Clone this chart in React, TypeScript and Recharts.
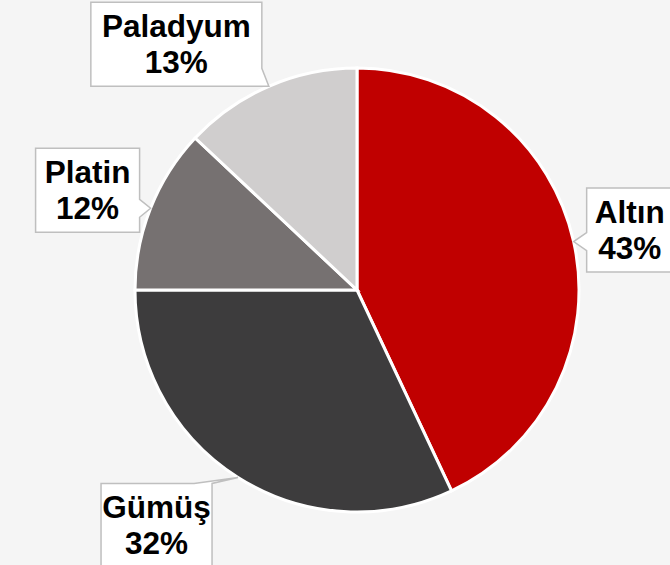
import { PieChart, Pie, Cell } from 'recharts';

const NAMES = ['Altın', 'Gümüş', 'Platin', 'Paladyum'];
const SHARES = [43, 32, 12, 13];
const COLORS = ['#c00000', '#3d3c3d', '#767171', '#d0cece'];

// callout box placement relative to the point where the pointer touches the pie
const CALLOUTS = [
  { dx: 56, dy: -11.5, w: 86, side: 'left' },
  { dx: -81.5, dy: 48, w: 111, side: 'top' },
  { dx: -63, dy: -18, w: 104, side: 'right' },
  { dx: -92.5, dy: -42, w: 171, side: 'right' },
];
const BOX_H = 84;
const RAD = Math.PI / 180;
const LABEL_FONT = { fontFamily: '"Liberation Sans", Arial, sans-serif', fontWeight: 700, fontSize: 31.5 };

const clamp = (v: number, lo: number, hi: number) => Math.max(lo, Math.min(hi, v));

function calloutPath(l: number, t: number, r: number, b: number, tx: number, ty: number, side: string) {
  const half = 9;
  if (side === 'right') {
    const c = clamp(ty, t + half, b - half);
    return `M${l},${t}L${r},${t}L${r},${c - half}L${tx},${ty}L${r},${c + half}L${r},${b}L${l},${b}Z`;
  }
  if (side === 'left') {
    const c = clamp(ty, t + half, b - half);
    return `M${l},${t}L${r},${t}L${r},${b}L${l},${b}L${l},${c + half}L${tx},${ty}L${l},${c - half}Z`;
  }
  // top
  const c = clamp(tx, l + half, r - half);
  return `M${l},${t}L${c - half},${t}L${tx},${ty}L${c + half},${t}L${r},${t}L${r},${b}L${l},${b}Z`;
}

const renderCallout = (props: any) => {
  const { cx, cy, midAngle, outerRadius, index, name, percent } = props;
  const tx = cx + outerRadius * Math.cos(-midAngle * RAD);
  const ty = cy + outerRadius * Math.sin(-midAngle * RAD);
  const c = CALLOUTS[index];
  const bx = tx + c.dx;
  const by = ty + c.dy;
  const l = bx - c.w / 2;
  const r = bx + c.w / 2;
  const t = by - BOX_H / 2;
  const b = by + BOX_H / 2;
  return (
    <g key={`callout-${index}`}>
      <path d={calloutPath(l, t, r, b, tx, ty, c.side)} fill="#ffffff" stroke="#bfbfbf" strokeWidth={1.5} />
      <text x={bx} y={by - 7} textAnchor="middle" fill="#000000" style={LABEL_FONT}>
        {name}
      </text>
      <text x={bx} y={by + 29} textAnchor="middle" fill="#000000" style={LABEL_FONT}>
        {`${Math.round(percent * 100)}%`}
      </text>
    </g>
  );
};

export default function App() {
  const data = NAMES.map((name, i) => ({ name, value: SHARES[i] }));

  return (
    <div style={{ position: 'fixed', left: 0, top: 0, width: 670, height: 565, background: '#f5f5f5' }}>
      <PieChart width={670} height={565} margin={{ top: 0, right: 0, bottom: 0, left: 0 }}>
        <Pie
          data={data}
          dataKey="value"
          nameKey="name"
          cx={357}
          cy={290}
          outerRadius={222}
          startAngle={90}
          endAngle={-270}
          stroke="#ffffff"
          strokeWidth={3}
          labelLine={false}
          label={renderCallout}
          isAnimationActive={false}
        >
          {data.map((entry, index) => (
            <Cell key={`cell-${index}`} fill={COLORS[index]} />
          ))}
        </Pie>
      </PieChart>
    </div>
  );
}
